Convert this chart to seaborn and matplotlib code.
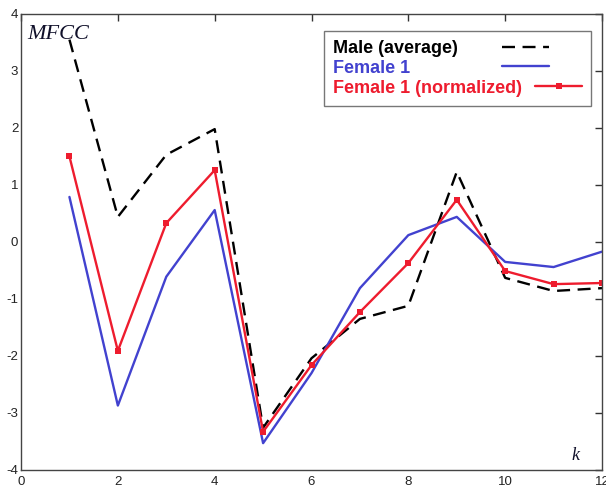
import matplotlib
matplotlib.use("Agg")
import matplotlib.pyplot as plt
import seaborn as sns
import pandas as pd

# MFCC coefficients per index k
k = [1, 2, 3, 4, 5, 6, 7, 8, 9, 10, 11, 12]
male_avg = [3.55, 0.44, 1.53, 1.98, -3.26, -2.04, -1.35, -1.12, 1.23, -0.63, -0.86, -0.81]
female1 = [0.79, -2.87, -0.61, 0.56, -3.53, -2.30, -0.81, 0.12, 0.44, -0.35, -0.44, -0.17]
female1_norm = [1.50, -1.91, 0.33, 1.26, -3.33, -2.16, -1.23, -0.37, 0.74, -0.51, -0.74, -0.72]

x_ticks = [0, 2, 4, 6, 8, 10, 12]
y_ticks = [-4, -3, -2, -1, 0, 1, 2, 3, 4]

BLACK = "#000000"
BLUE = "#4242cf"
RED = "#ee1c2e"
DPI = 100

sns.set_theme(style="white")
plt.rcParams["font.family"] = ["Liberation Sans", "DejaVu Sans"]

fig = plt.figure(figsize=(6.06, 4.87), dpi=DPI)
ax = fig.add_axes([0.0347, 0.035, 0.9587, 0.9363])

df = pd.DataFrame({"k": k, "male": male_avg, "f1": female1, "f1n": female1_norm})

sns.lineplot(data=df, x="k", y="male", ax=ax, color=BLACK, lw=1.7,
             linestyle=(0, (5.5, 3.2)), label="Male (average)")
sns.lineplot(data=df, x="k", y="f1", ax=ax, color=BLUE, lw=1.7,
             label="Female 1")
sns.lineplot(data=df, x="k", y="f1n", ax=ax, color=RED, lw=1.7,
             marker="s", markersize=5, markeredgewidth=0,
             label="Female 1 (normalized)")

ax.set_xlim(0, 12)
ax.set_ylim(-4, 4)
ax.set_xticks(x_ticks)
ax.set_yticks(y_ticks)
ax.set_xticklabels([str(v) for v in x_ticks])
ax.set_yticklabels([str(v) for v in y_ticks])
ax.set_xlabel("")
ax.set_ylabel("")

ax.tick_params(axis="both", which="both", direction="in", length=5, width=1,
               color="#333333", labelsize=9.5, labelcolor="#222222",
               top=True, right=True)
ax.tick_params(axis="x", pad=4)
ax.tick_params(axis="y", pad=2)
for s in ax.spines.values():
    s.set_color("#444444")
    s.set_linewidth(1.0)

ax.text(0.011, 0.975, "MFCC", transform=ax.transAxes, ha="left", va="top",
        fontsize=16, fontstyle="italic", family="Liberation Serif", color="#10102a")
ax.text(0.948, 0.012, "k", transform=ax.transAxes, ha="left", va="bottom",
        fontsize=13, fontstyle="italic", family="Liberation Serif", color="#10102a")

# Legend: text first, line sample after it
leg = ax.legend(loc="upper left", bbox_to_anchor=(0.5215, 0.963), markerfirst=False,
                frameon=True, fancybox=False, framealpha=1, edgecolor="#777777",
                prop={"weight": "bold", "size": 13}, handlelength=2.6,
                borderpad=0.5, borderaxespad=0, labelspacing=0.16, handletextpad=1.0)
leg.get_frame().set_linewidth(1.0)
for txt, c in zip(leg.get_texts(), [BLACK, BLUE, RED]):
    txt.set_color(c)

column = leg._legend_handle_box.get_children()[0]
column.align = "left"

# place each line sample at a chosen offset from the left of the text column
fig.canvas.draw()
renderer = fig.canvas.get_renderer()
text_widths = [t.get_window_extent(renderer).width for t in leg.get_texts()]
sample_offsets_px = [169, 169, 202]
for row, w, off in zip(column.get_children(), text_widths, sample_offsets_px):
    row.sep = max(off - w, 4) * 72.0 / DPI

fig.savefig("out.png", dpi=DPI)
